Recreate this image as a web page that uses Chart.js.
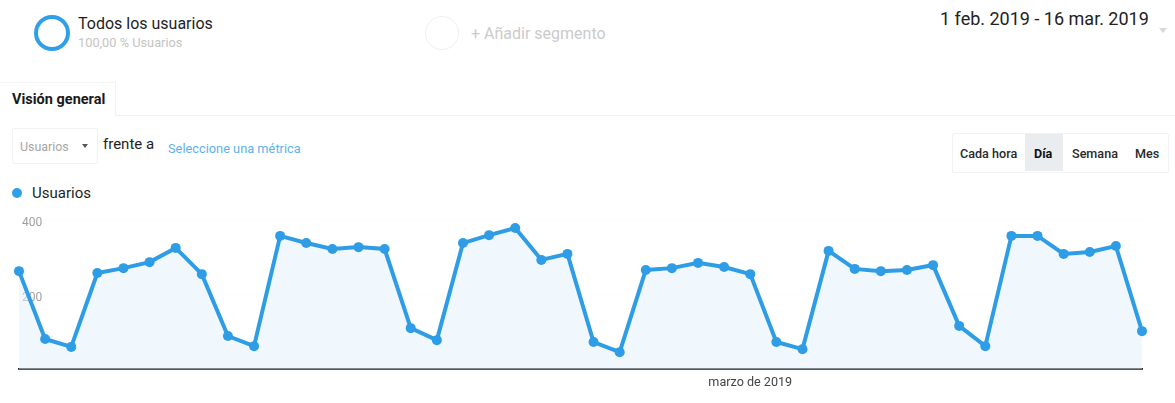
<!DOCTYPE html>
<html>
<head>
<meta charset="utf-8">
<script src="https://cdn.jsdelivr.net/npm/chart.js@4"></script>
<style>
  html, body { margin:0; padding:0; background:#fff; }
  body { width:1175px; height:403px; position:relative; overflow:hidden; font-family: Roboto, "Noto Sans", Arial, sans-serif; }
  .abs { position:absolute; white-space:nowrap; }
  #chartWrap { position:absolute; left:0; top:0; width:1175px; height:403px; }
</style>
</head>
<body>
<!-- header segment -->
<div class="abs" style="left:34px;top:15px;width:28px;height:28px;border:4px solid #2f9fe8;border-radius:50%;"></div>
<div class="abs" style="left:78px;top:14px;font-size:16px;color:#1e1e1e;line-height:20px;">Todos los usuarios</div>
<div class="abs" style="left:78px;top:36px;font-size:12.8px;color:#c4c4c4;line-height:14px;">100,00 % Usuarios</div>

<div class="abs" style="left:425px;top:16px;width:32px;height:32px;border:1.5px solid #f0f0f0;border-radius:50%;"></div>
<div class="abs" style="left:471px;top:24px;font-size:16px;color:#cbcbcb;line-height:20px;">+ Añadir segmento</div>

<div class="abs" style="left:940px;top:7px;font-size:18px;color:#222;line-height:24px;">1 feb. 2019 - 16 mar. 2019</div>
<div class="abs" style="left:1159px;top:28px;width:0;height:0;border-left:4px solid transparent;border-right:4px solid transparent;border-top:5px solid #d8d8d8;"></div>

<!-- tab -->
<div class="abs" style="left:0;top:82px;width:115px;height:33px;border-top:1px solid #f4f4f4;border-right:1px solid #f2f2f2;"></div>
<div class="abs" style="left:115px;top:115px;width:1060px;height:0;border-top:1px solid #f2f2f2;"></div>
<div class="abs" style="left:12px;top:91px;font-size:14.5px;font-weight:bold;color:#1a1a1a;line-height:18px;">Visión general</div>

<!-- metric selector -->
<div class="abs" style="left:12px;top:128px;width:84px;height:34px;border:1px solid #f2f2f2;border-radius:2px;"></div>
<div class="abs" style="left:20px;top:139px;font-size:12.4px;color:#a6a6a6;line-height:16px;">Usuarios</div>
<div class="abs" style="left:82px;top:144px;width:0;height:0;border-left:3.5px solid transparent;border-right:3.5px solid transparent;border-top:4px solid #555;"></div>
<div class="abs" style="left:103px;top:134px;font-size:15px;color:#1e1e1e;line-height:20px;">frente a</div>
<div class="abs" style="left:168px;top:141px;font-size:12.8px;color:#5eb2ec;line-height:16px;">Seleccione una métrica</div>

<!-- period buttons -->
<div class="abs" style="left:952px;top:133px;width:215px;height:38px;border:1px solid #f2f2f2;border-radius:2px;"></div>
<div class="abs" style="left:1025px;top:134px;width:38px;height:37px;background:#eaedef;"></div>
<div class="abs" style="left:960px;top:146px;font-size:12.6px;font-weight:500;color:#2a2a2a;line-height:16px;">Cada hora</div>
<div class="abs" style="left:1034px;top:146px;font-size:12.6px;font-weight:bold;color:#111;line-height:16px;">Día</div>
<div class="abs" style="left:1072px;top:146px;font-size:12.6px;font-weight:500;color:#2a2a2a;line-height:16px;">Semana</div>
<div class="abs" style="left:1135px;top:146px;font-size:12.6px;font-weight:500;color:#2a2a2a;line-height:16px;">Mes</div>

<!-- legend -->
<div class="abs" style="left:12px;top:188px;width:10px;height:10px;border-radius:50%;background:#2f9fe8;"></div>
<div class="abs" style="left:32px;top:183px;font-size:15px;color:#1e1e1e;line-height:20px;">Usuarios</div>

<div id="chartWrap"><canvas id="c" width="1175" height="403"></canvas></div>

<script>
// ---- data ----
const categories = [
  "1 feb","2 feb","3 feb","4 feb","5 feb","6 feb","7 feb","8 feb","9 feb","10 feb",
  "11 feb","12 feb","13 feb","14 feb","15 feb","16 feb","17 feb","18 feb","19 feb","20 feb",
  "21 feb","22 feb","23 feb","24 feb","25 feb","26 feb","27 feb","28 feb",
  "1 mar","2 mar","3 mar","4 mar","5 mar","6 mar","7 mar","8 mar","9 mar","10 mar",
  "11 mar","12 mar","13 mar","14 mar","15 mar","16 mar"
];
const usuarios = [
  261, 80, 59, 256, 269, 285, 323, 253, 88, 61,
  355, 336, 320, 325, 320, 109, 77, 336, 357, 376,
  291, 307, 72, 45, 264, 269, 283, 272,
  253, 72, 53, 315, 267, 261, 264, 277, 115, 61,
  355, 355, 307, 312, 328, 101
];
const yTicks = [200, 400];
const xTickLabels = { 28: "marzo de 2019" };

const blue = "#2e9de6";

new Chart(document.getElementById("c"), {
  type: "line",
  data: {
    labels: categories,
    datasets: [{
      label: "Usuarios",
      data: usuarios,
      borderColor: blue,
      backgroundColor: "rgba(225,242,251,0.5)",
      fill: "origin",
      borderWidth: 4,
      pointRadius: 5,
      pointBackgroundColor: blue,
      pointBorderWidth: 0,
      tension: 0
    }]
  },
  options: {
    responsive: false,
    animation: false,
    layout: { padding: { left: 19, right: 33, top: 219, bottom: 0 } },
    plugins: { legend: { display: false }, tooltip: { enabled: false } },
    scales: {
      x: {
        offset: false,
        z: 1,
        grid: { display: false, drawTicks: false },
        border: { display: true, color: "#1f1f1f", width: 1.8 },
        ticks: {
          autoSkip: false,
          maxRotation: 0,
          padding: 6,
          color: "#444",
          font: { family: "Roboto, 'Noto Sans', Arial", size: 12.6 },
          callback: (v, i) => xTickLabels[i] || ""
        },
        afterFit: s => { s.height = 34; s.paddingLeft = 0; s.paddingRight = 0; }
      },
      y: {
        min: 0, max: 400,
        grid: { display: true, drawTicks: false, color: "rgba(0,0,0,0.012)" },
        border: { display: false },
        afterBuildTicks: s => { s.ticks = [0, ...yTicks].map(v => ({ value: v })); },
        ticks: {
          mirror: true,
          padding: 3,
          labelOffset: 4,
          color: "#a0a0a0",
          font: { family: "Roboto, 'Noto Sans', Arial", size: 12 },
          callback: v => (yTicks.includes(v) ? String(v) : "")
        },
        afterFit: s => { s.width = 0; }
      }
    }
  }
});
</script>
</body>
</html>
